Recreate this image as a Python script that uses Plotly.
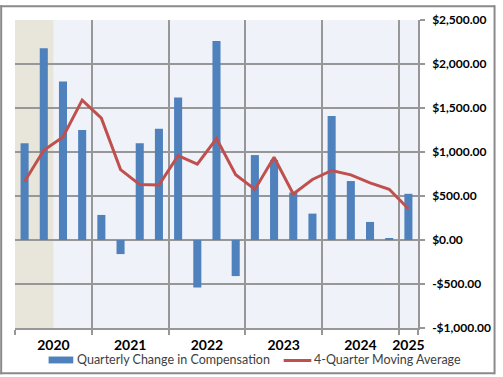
import plotly.graph_objects as go

quarters = ["2020Q1","2020Q2","2020Q3","2020Q4",
            "2021Q1","2021Q2","2021Q3","2021Q4",
            "2022Q1","2022Q2","2022Q3","2022Q4",
            "2023Q1","2023Q2","2023Q3","2023Q4",
            "2024Q1","2024Q2","2024Q3","2024Q4",
            "2025Q1"]
quarterly_change = [1100, 2180, 1800, 1250,
                    285, -160, 1100, 1265,
                    1620, -540, 2260, -410,
                    965, 910, 540, 300,
                    1410, 670, 205, 20,
                    525]
moving_average = [665, 1020, 1170, 1590,
                  1385, 800, 630, 625,
                  958, 862, 1152, 742,
                  575, 940, 522, 688,
                  790, 740, 650, 577,
                  355]
year_labels = ["2020", "2021", "2022", "2023", "2024", "2025"]
year_centers = [1.5, 5.5, 9.5, 13.5, 17.5, 20]
y_ticks = [-1000, -500, 0, 500, 1000, 1500, 2000, 2500]
y_tick_text = ["-$1,000.00", "-$500.00", "$0.00", "$500.00", "$1,000.00",
               "$1,500.00", "$2,000.00", "$2,500.00"]
shade_range = [-0.5, 1.5]

xs = list(range(len(quarters)))

BLUE = "#4F81BD"
RED = "#C0504D"
GRID = "#979797"
FONT = "Lato"

fig = go.Figure()
fig.add_trace(go.Bar(x=xs, y=quarterly_change, marker_color=BLUE,
                     marker_line_width=0, name="Quarterly Change in Compensation",
                     showlegend=False))
fig.add_trace(go.Scatter(x=xs, y=moving_average, mode="lines",
                         line=dict(color=RED, width=3),
                         name="4-Quarter Moving Average", showlegend=False))
# invisible trace to activate xaxis2 for year labels
fig.add_trace(go.Scatter(x=[xs[0]], y=[0], xaxis="x2", mode="markers",
                         marker=dict(opacity=0), showlegend=False, hoverinfo="skip"))

fig.update_layout(
    width=503, height=377,
    margin=dict(l=15, r=80, t=15, b=49),
    paper_bgcolor="white",
    plot_bgcolor="#EFF3F9",
    bargap=0.58,
    font=dict(family=FONT, color="#000000"),
    xaxis=dict(range=[-0.5, 20.5], tickvals=[-0.5, 3.5, 7.5, 11.5, 15.5, 19.5, 20.5],
               showticklabels=False, ticks="outside", ticklen=5, tickcolor=GRID,
               tickwidth=1.5, showgrid=True, gridcolor=GRID, gridwidth=1.5,
               showline=True, linecolor=GRID, linewidth=1.5, zeroline=False),
    xaxis2=dict(range=[-0.5, 20.5], overlaying="x", side="bottom",
                tickvals=year_centers, ticktext=year_labels, ticks="",
                showgrid=False, zeroline=False, showline=False,
                tickfont=dict(family=FONT, size=14, color="#000000", weight="bold"),
                ticklabelstandoff=7),
    yaxis=dict(range=[-1000, 2500], tickvals=y_ticks, ticktext=y_tick_text,
               side="right", ticks="outside", ticklen=5, tickcolor=GRID, tickwidth=1.5,
               showgrid=True, gridcolor=GRID, gridwidth=1.5,
               showline=True, linecolor=GRID, linewidth=1.5, zeroline=False,
               tickfont=dict(family=FONT, size=12, color="#000000", weight="bold"),
               ticklabelstandoff=5),
)

# shaded period
fig.add_shape(type="rect", xref="x", yref="paper", x0=shade_range[0], x1=shade_range[1],
              y0=0, y1=1, fillcolor="#E8E6DB", line_width=0, layer="below")

W, H = 408.0, 313.0
def px(xp):
    return (xp - 15) / W
def py(yp):
    return (328 - yp) / H

# outer border as four lines
BORDER = dict(color="#8A8A8A", width=2)
for (a, b, c, d) in [(0, 1, 501, 1), (0, 374, 501, 374), (1, 0, 1, 375), (500.5, 0, 500.5, 375)]:
    fig.add_shape(type="line", xref="paper", yref="paper", x0=px(a), y0=py(b),
                  x1=px(c), y1=py(d), line=BORDER, layer="above")

# manual legend
fig.add_shape(type="rect", xref="paper", yref="paper", x0=px(49), x1=px(74),
              y0=py(364), y1=py(357), fillcolor=BLUE, line_width=0)
fig.add_annotation(xref="paper", yref="paper", x=px(76), y=py(360), xanchor="left",
                   yanchor="middle", showarrow=False,
                   text="Quarterly Change in Compensation",
                   font=dict(family=FONT, size=12.5, color="#404040"))
fig.add_shape(type="line", xref="paper", yref="paper", x0=px(287), x1=px(315),
              y0=py(361), y1=py(361), line=dict(color=RED, width=3))
fig.add_annotation(xref="paper", yref="paper", x=px(316), y=py(360), xanchor="left",
                   yanchor="middle", showarrow=False,
                   text="4-Quarter Moving Average",
                   font=dict(family=FONT, size=12.5, color="#404040"))

fig.write_html("out.html", config={"displayModeBar": False},
               post_script="document.body.style.margin='0';document.body.style.overflow='hidden';")
